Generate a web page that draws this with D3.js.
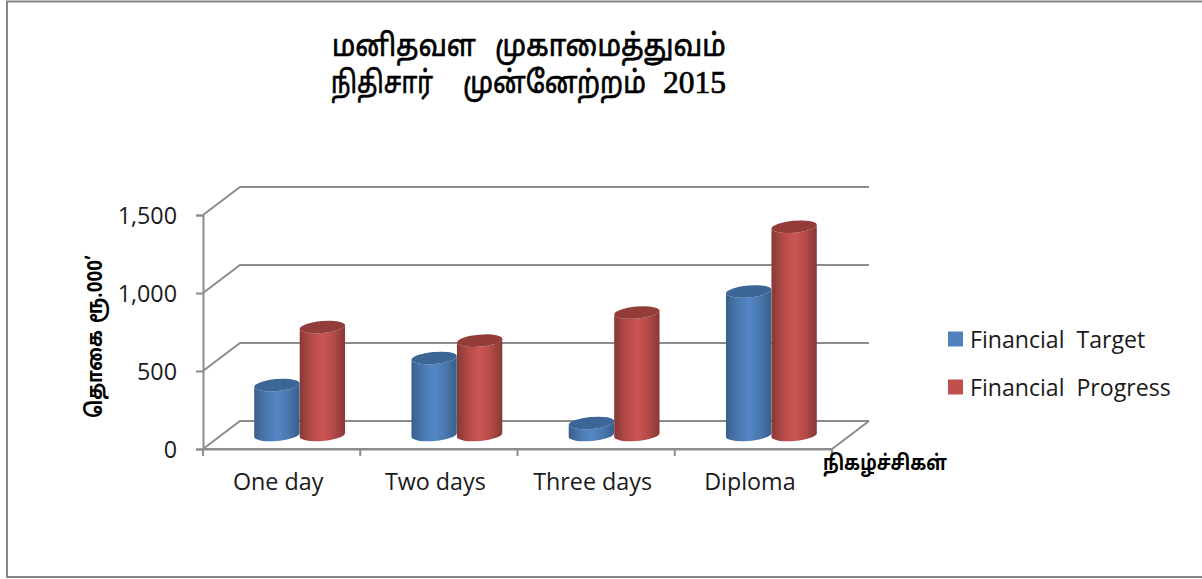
<!DOCTYPE html>
<html><head><meta charset="utf-8"><script src="https://cdn.jsdelivr.net/npm/d3@7"></script>
<style>html,body{margin:0;padding:0;background:#fff}svg{display:block}</style></head><body>
<svg id="c" width="1202" height="579"></svg>
<script>
const categories=["One day","Two days","Three days","Diploma"];
const seriesNames=["Financial  Target","Financial  Progress"];
const financialTarget=[320,494,77,920];
const financialProgress=[692,605,785,1335];
const yTicks=[0,500,1000,1500];
const titleLine1=["மனிதவள","முகாமைத்துவம்"];
const titleLine2=["நிதிசார்","முன்னேற்றம்","2015"];
const yTitle=["தொகை","ரூ.000’"];
const xTitle="நிகழ்ச்சிகள்";
const baseColors=["#4f81bd","#c0504d"];
const grads=[["#375f8c","#4a78ae","#5487c6","#4a78ae","#375f8c"],["#863836","#b34a47","#cb5654","#b34a47","#863836"]];
const topColors=["#3c6695","#943c3a"];
const DX=37,DY=-28,GRID="#8c8c8c",FONT="'Open Sans',sans-serif",TAM="'Noto Sans Tamil','Noto Serif Tamil','Noto Sans',sans-serif";

const svg=d3.select("#c");
const defs=svg.append("defs");
grads.forEach((g,i)=>{const lg=defs.append("linearGradient").attr("id","g"+i);
  g.forEach((c,k)=>lg.append("stop").attr("offset",[0,.25,.5,.75,1][k]).attr("stop-color",c));});
svg.append("path").attr("d","M1202,1.5H7V577H1202").attr("fill","none").attr("stroke","#868686").attr("stroke-width",2);

const x=d3.scaleBand().domain(categories).range([203,832]);
const y=d3.scaleLinear().domain([0,1500]).range([449,215]);
const gridG=svg.append("g").attr("fill","none").attr("stroke",GRID).attr("stroke-width",2);
yTicks.forEach(t=>{
  gridG.append("path").attr("d",d3.line()([[x.range()[0],y(t)],[x.range()[0]+DX,y(t)+DY],[x.range()[1]+DX,y(t)+DY]]));
});
gridG.append("path").attr("d",d3.line()([[x.range()[0],y(0)],[x.range()[1],y(0)],[x.range()[1]+DX,y(0)+DY]]));

const yAxis=svg.append("g").attr("transform","translate(203,0)").call(d3.axisLeft(y).tickValues(yTicks).tickSize(7).tickPadding(19).tickFormat(d3.format(",")));
const xAxis=svg.append("g").attr("transform","translate(0,449)").call(d3.axisBottom(x).tickSize(0).tickPadding(24));
[yAxis,xAxis].forEach(a=>{a.selectAll("path,line").attr("stroke",GRID).attr("stroke-width",2);
  a.selectAll("text").attr("font-family",FONT).attr("font-size",23.3).attr("fill","#1a1a1a");});
xAxis.selectAll("text").attr("dx",-3.5);
yAxis.selectAll("text").attr("transform","translate(0,1.5)");
const bt=svg.append("g");
categories.concat([null]).forEach((c,i)=>{const px=c?x(c):x.range()[1];
  bt.append("line").attr("x1",px).attr("x2",px).attr("y1",449).attr("y2",456).attr("stroke",GRID).attr("stroke-width",2);});

const bx=d3.scaleBand().domain([0,1]).range([0,91]);
const data=[financialTarget,financialProgress];
const mid=d=>y(d)+DY/2;
const RY=6,TILT=-5;
const g=svg.append("g");
data.forEach((vals,s)=>{
  vals.forEach((v,i)=>{
    const cx=x(categories[i])+x.bandwidth()/2+DX/2-45.5+bx(s)+bx.bandwidth()/2-.5;
    const rx=bx.bandwidth()/2, top=mid(v), base=mid(0), ang=TILT*Math.PI/180;
    const ox=rx*Math.cos(ang), oy=rx*Math.sin(ang);
    g.append("path").attr("fill",`url(#g${s})`)
      .attr("d",`M${cx-ox},${top-oy}L${cx-ox},${base-oy}A${rx},${RY} ${TILT} 0 0 ${cx+ox},${base+oy}L${cx+ox},${top+oy}A${rx},${RY} ${TILT} 0 1 ${cx-ox},${top-oy}Z`);
    g.append("ellipse").attr("rx",rx).attr("ry",RY).attr("fill",topColors[s])
      .attr("transform",`translate(${cx},${top}) rotate(${TILT})`);
  });
});

const titleG=svg.append("g").attr("font-family",TAM).attr("font-size",31).attr("fill","#000").attr("stroke","#000").attr("stroke-width",.7);
[[titleLine1,[[332,144],[495,231]],56],[titleLine2,[[331,102],[463,183],[663,63]],93]].forEach(([words,pos,by])=>{
  words.forEach((w,i)=>{
    const isNum=/^\d+$/.test(w);
    const t=titleG.append("text").attr("font-family",isNum?"'Liberation Serif',serif":TAM).text(w);
    const sx=pos[i][1]/t.node().getComputedTextLength();
    t.attr("transform",`translate(${pos[i][0]},${by}) scale(${sx},1)`);
  });
});
const yt=svg.append("g").attr("transform","translate(102,0) rotate(-90)").attr("font-family",TAM).attr("font-size",22).attr("font-weight","bold").attr("fill","#000");
yt.append("text").attr("x",-418).attr("textLength",88).attr("lengthAdjust","spacingAndGlyphs").text(yTitle[0]);
yt.append("text").attr("x",-323).attr("textLength",68).attr("lengthAdjust","spacingAndGlyphs").text(yTitle[1]);
svg.append("text").attr("x",823).attr("y",470).attr("textLength",124).attr("lengthAdjust","spacingAndGlyphs").attr("font-family",TAM).attr("font-size",21).attr("font-weight","bold").attr("fill","#000").text(xTitle);

const lg=svg.append("g").attr("font-family",FONT).attr("font-size",23.1).attr("fill","#1a1a1a");
seriesNames.forEach((n,i)=>{const ly=339+i*48;
  lg.append("rect").attr("x",948).attr("y",ly-7.5).attr("width",15).attr("height",15).attr("fill",baseColors[i]);
  lg.append("text").attr("x",970).attr("y",ly+9).attr("xml:space","preserve").text(n);});
</script></body></html>
